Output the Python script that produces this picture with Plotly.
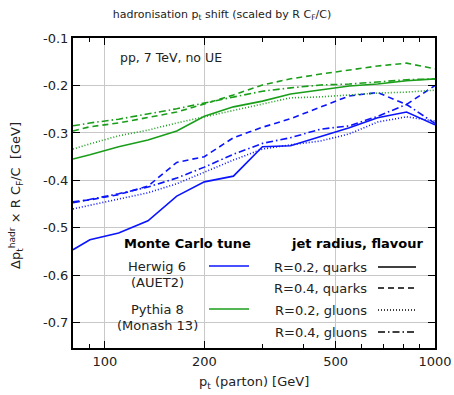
import plotly.graph_objects as go

pt = [80, 90, 110, 135, 165, 200, 245, 300, 365, 450, 550, 670, 820, 1000]

herwig_r02_q = [-0.546, -0.525, -0.511, -0.485, -0.433, -0.403, -0.391, -0.329, -0.327, -0.308, -0.289, -0.268, -0.256, -0.283]
herwig_r04_q = [-0.445, -0.441, -0.430, -0.412, -0.362, -0.350, -0.310, -0.288, -0.270, -0.245, -0.222, -0.215, -0.240, -0.200]
herwig_r02_g = [-0.460, -0.452, -0.439, -0.426, -0.407, -0.382, -0.357, -0.334, -0.325, -0.317, -0.302, -0.277, -0.266, -0.275]
herwig_r04_g = [-0.447, -0.440, -0.428, -0.414, -0.395, -0.372, -0.345, -0.322, -0.310, -0.292, -0.285, -0.265, -0.240, -0.280]

pythia_r02_q = [-0.355, -0.346, -0.329, -0.315, -0.296, -0.265, -0.245, -0.233, -0.218, -0.209, -0.201, -0.197, -0.190, -0.186]
pythia_r04_q = [-0.296, -0.287, -0.279, -0.268, -0.256, -0.239, -0.220, -0.199, -0.186, -0.176, -0.167, -0.159, -0.153, -0.165]
pythia_r02_g = [-0.334, -0.323, -0.306, -0.294, -0.279, -0.266, -0.252, -0.239, -0.226, -0.224, -0.220, -0.216, -0.214, -0.210]
pythia_r04_g = [-0.285, -0.279, -0.271, -0.260, -0.249, -0.237, -0.224, -0.212, -0.205, -0.199, -0.197, -0.193, -0.188, -0.186]

x_ticks = [100, 200, 500, 1000]
x_minor = [80, 90, 300, 400, 600, 700, 800, 900]
y_ticks = [-0.7, -0.6, -0.5, -0.4, -0.3, -0.2, -0.1]

BLUE = "#0a14ff"
GREEN = "#1a9e1a"
FONT = "DejaVu Sans"
TXT = "#222"

DASHES = {
    "solid": "solid",
    "dashed": "6px,4px",
    "dotted": "1px,2px",
    "dashdot": "7px,3px,1.5px,3px",
}

series = [
    (herwig_r02_q, BLUE, "solid"),
    (herwig_r04_q, BLUE, "dashed"),
    (herwig_r02_g, BLUE, "dotted"),
    (herwig_r04_g, BLUE, "dashdot"),
    (pythia_r02_q, GREEN, "solid"),
    (pythia_r04_q, GREEN, "dashed"),
    (pythia_r02_g, GREEN, "dotted"),
    (pythia_r04_g, GREEN, "dashdot"),
]

fig = go.Figure()
for ys, col, sty in series:
    fig.add_trace(go.Scatter(x=pt, y=ys, mode="lines",
                             line=dict(color=col, width=1.6, dash=DASHES[sty]),
                             showlegend=False))

W, H = 454, 395
L, R, T, B = 73, 19, 38, 47
pw, ph = W - L - R, H - T - B


def px(x):
    return (x - L) / pw


def py(y):
    return (H - B - y) / ph


shapes = []
annotations = []


def text(t, x, y, xa="center", size=13, color=TXT, angle=0):
    annotations.append(dict(text=t, x=px(x), y=py(y), xref="paper", yref="paper",
                            xanchor=xa, yanchor="middle", showarrow=False, textangle=angle,
                            font=dict(size=size, family=FONT, color=color)))


# opaque key boxes
shapes.append(dict(type="rect", xref="paper", yref="paper", x0=px(79), x1=px(256),
                   y0=py(344), y1=py(252), fillcolor="white", line=dict(width=0), layer="below"))
shapes.append(dict(type="rect", xref="paper", yref="paper", x0=px(256), x1=px(431),
                   y0=py(344), y1=py(233), fillcolor="white", line=dict(width=0), layer="below"))

# left key
text("<b>Monte Carlo tune</b>", 187, 243, color="black")
for lines_txt, yy, col in [(["Herwig 6", "(AUET2)"], 266, BLUE), (["Pythia 8", "(Monash 13)"], 309, GREEN)]:
    text(lines_txt[0], 157, yy)
    text(lines_txt[1], 157, yy + 16)
    shapes.append(dict(type="line", xref="paper", yref="paper", x0=px(209), x1=px(249),
                       y0=py(yy), y1=py(yy), line=dict(color=col, width=1.6)))

# right key
text("<b>jet radius, flavour</b>", 425, 243, xa="right", color="black")
for lab, yy, sty in [("R=0.2, quarks", 267, "solid"), ("R=0.4, quarks", 288, "dashed"),
                     ("R=0.2, gluons", 310, "dotted"), ("R=0.4, gluons", 332, "dashdot")]:
    text(lab, 369, yy, xa="right")
    shapes.append(dict(type="line", xref="paper", yref="paper", x0=px(378), x1=px(416),
                       y0=py(yy), y1=py(yy), line=dict(color="black", width=1.5, dash=DASHES[sty])))

text("pp, 7 TeV, no UE", 118, 57, xa="left", size=12.5)

# axis titles
text("p<sub>t</sub> (parton) [GeV]", 254, 382)
text("Δp<sub>t</sub><sup>hadr</sup> × R C<sub>F</sub>/C  [GeV]", 16, 196, angle=-90)

fig.update_layout(
    width=W, height=H,
    margin=dict(l=L, r=R, t=T, b=B, autoexpand=False),
    paper_bgcolor="white", plot_bgcolor="white",
    font=dict(family=FONT, size=13, color=TXT),
    title=dict(text="hadronisation p<sub>t</sub> shift (scaled by R C<sub>F</sub>/C)",
               x=222 / W, xanchor="center", y=1 - 14 / H, yanchor="middle",
               font=dict(size=11, family=FONT, color=TXT)),
    shapes=shapes, annotations=annotations,
)

fig.update_xaxes(type="log", range=[1.9031, 3.0], tickvals=x_ticks, ticktext=[str(v) for v in x_ticks],
                 ticks="inside", ticklen=7, tickwidth=1.2, tickcolor="black",
                 minor=dict(tickvals=x_minor, ticks="inside", ticklen=4, tickcolor="black", showgrid=False),
                 showline=True, linecolor="black", linewidth=2, mirror="ticks",
                 showgrid=True, gridcolor="#c8c8c8", gridwidth=1, automargin=False,
                 tickfont=dict(size=13), zeroline=False)
fig.update_yaxes(range=[-0.753, -0.1], tickvals=y_ticks, ticktext=["%.1f" % v for v in y_ticks],
                 ticks="inside", ticklen=7, tickwidth=1.2, tickcolor="black",
                 showline=True, linecolor="black", linewidth=2, mirror="ticks",
                 showgrid=True, gridcolor="#c8c8c8", gridwidth=1, automargin=False,
                 tickfont=dict(size=13), zeroline=False)

fig.write_html("out.html")
